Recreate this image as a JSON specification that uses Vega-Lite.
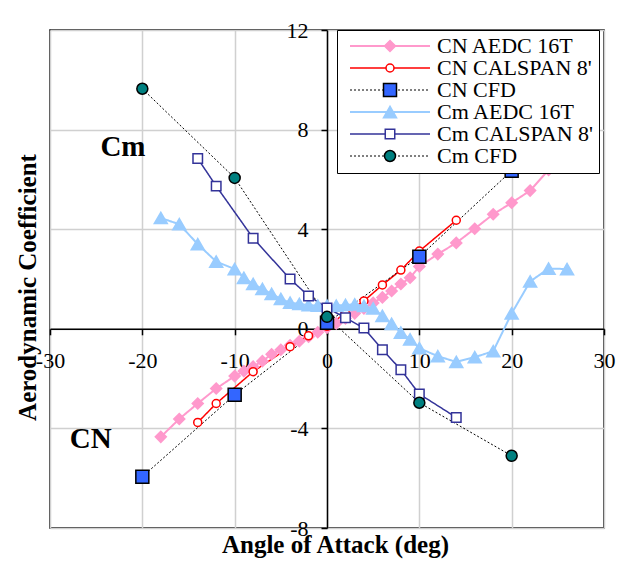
{
  "$schema": "https://vega.github.io/schema/vega-lite/v6.json",
  "width": 554,
  "height": 498,
  "autosize": {"type": "none"},
  "padding": {"left": 50, "top": 30, "right": 19, "bottom": 37},
  "background": "#ffffff",
  "config": {
    "view": {"stroke": "#000000", "strokeWidth": 1.5},
    "font": "Liberation Serif"
  },
  "datasets": {
    "series": [
      {"series": "CN AEDC 16T", "alpha": -18, "coef": -4.34},
      {"series": "CN AEDC 16T", "alpha": -16, "coef": -3.62},
      {"series": "CN AEDC 16T", "alpha": -14, "coef": -3.0},
      {"series": "CN AEDC 16T", "alpha": -12, "coef": -2.4},
      {"series": "CN AEDC 16T", "alpha": -10, "coef": -1.9},
      {"series": "CN AEDC 16T", "alpha": -9, "coef": -1.7},
      {"series": "CN AEDC 16T", "alpha": -8, "coef": -1.52},
      {"series": "CN AEDC 16T", "alpha": -7, "coef": -1.3},
      {"series": "CN AEDC 16T", "alpha": -6, "coef": -1.02},
      {"series": "CN AEDC 16T", "alpha": -5, "coef": -0.84},
      {"series": "CN AEDC 16T", "alpha": -4, "coef": -0.66},
      {"series": "CN AEDC 16T", "alpha": -3, "coef": -0.5},
      {"series": "CN AEDC 16T", "alpha": -2, "coef": -0.32},
      {"series": "CN AEDC 16T", "alpha": -1, "coef": -0.14},
      {"series": "CN AEDC 16T", "alpha": 0, "coef": 0.04},
      {"series": "CN AEDC 16T", "alpha": 1, "coef": 0.22},
      {"series": "CN AEDC 16T", "alpha": 2, "coef": 0.42},
      {"series": "CN AEDC 16T", "alpha": 3, "coef": 0.62},
      {"series": "CN AEDC 16T", "alpha": 4, "coef": 0.82},
      {"series": "CN AEDC 16T", "alpha": 5, "coef": 1.04},
      {"series": "CN AEDC 16T", "alpha": 6, "coef": 1.26},
      {"series": "CN AEDC 16T", "alpha": 7, "coef": 1.52},
      {"series": "CN AEDC 16T", "alpha": 8, "coef": 1.8},
      {"series": "CN AEDC 16T", "alpha": 9, "coef": 2.05},
      {"series": "CN AEDC 16T", "alpha": 10, "coef": 2.5},
      {"series": "CN AEDC 16T", "alpha": 12, "coef": 3.0},
      {"series": "CN AEDC 16T", "alpha": 14, "coef": 3.45},
      {"series": "CN AEDC 16T", "alpha": 16, "coef": 4.02},
      {"series": "CN AEDC 16T", "alpha": 18, "coef": 4.6},
      {"series": "CN AEDC 16T", "alpha": 20, "coef": 5.06},
      {"series": "CN AEDC 16T", "alpha": 22, "coef": 5.55},
      {"series": "CN AEDC 16T", "alpha": 24, "coef": 6.38},
      {"series": "CN AEDC 16T", "alpha": 26, "coef": 7.1},

      {"series": "CN CALSPAN 8'", "alpha": -14, "coef": -3.76},
      {"series": "CN CALSPAN 8'", "alpha": -12, "coef": -3.0},
      {"series": "CN CALSPAN 8'", "alpha": -8, "coef": -1.72},
      {"series": "CN CALSPAN 8'", "alpha": -4, "coef": -0.72},
      {"series": "CN CALSPAN 8'", "alpha": -2, "coef": -0.28},
      {"series": "CN CALSPAN 8'", "alpha": 0, "coef": 0.1},
      {"series": "CN CALSPAN 8'", "alpha": 2, "coef": 0.62},
      {"series": "CN CALSPAN 8'", "alpha": 4, "coef": 1.12},
      {"series": "CN CALSPAN 8'", "alpha": 6, "coef": 1.76},
      {"series": "CN CALSPAN 8'", "alpha": 8, "coef": 2.36},
      {"series": "CN CALSPAN 8'", "alpha": 10, "coef": 3.12},
      {"series": "CN CALSPAN 8'", "alpha": 14, "coef": 4.36},

      {"series": "CN CFD", "alpha": -20, "coef": -5.94},
      {"series": "CN CFD", "alpha": -10, "coef": -2.65},
      {"series": "CN CFD", "alpha": 0, "coef": 0.24},
      {"series": "CN CFD", "alpha": 10, "coef": 2.89},
      {"series": "CN CFD", "alpha": 20, "coef": 6.35},

      {"series": "Cm AEDC 16T", "alpha": -18, "coef": 4.45},
      {"series": "Cm AEDC 16T", "alpha": -16, "coef": 4.2},
      {"series": "Cm AEDC 16T", "alpha": -14, "coef": 3.4},
      {"series": "Cm AEDC 16T", "alpha": -12, "coef": 2.7},
      {"series": "Cm AEDC 16T", "alpha": -10, "coef": 2.4},
      {"series": "Cm AEDC 16T", "alpha": -9, "coef": 2.05},
      {"series": "Cm AEDC 16T", "alpha": -8, "coef": 1.8},
      {"series": "Cm AEDC 16T", "alpha": -7, "coef": 1.6},
      {"series": "Cm AEDC 16T", "alpha": -6, "coef": 1.4},
      {"series": "Cm AEDC 16T", "alpha": -5, "coef": 1.2},
      {"series": "Cm AEDC 16T", "alpha": -4, "coef": 1.05},
      {"series": "Cm AEDC 16T", "alpha": -3, "coef": 1.0},
      {"series": "Cm AEDC 16T", "alpha": -2, "coef": 0.95},
      {"series": "Cm AEDC 16T", "alpha": -1, "coef": 0.93},
      {"series": "Cm AEDC 16T", "alpha": 0, "coef": 0.93},
      {"series": "Cm AEDC 16T", "alpha": 1, "coef": 0.93},
      {"series": "Cm AEDC 16T", "alpha": 2, "coef": 0.96},
      {"series": "Cm AEDC 16T", "alpha": 3, "coef": 0.98},
      {"series": "Cm AEDC 16T", "alpha": 4, "coef": 0.92},
      {"series": "Cm AEDC 16T", "alpha": 5, "coef": 0.82},
      {"series": "Cm AEDC 16T", "alpha": 6, "coef": 0.52},
      {"series": "Cm AEDC 16T", "alpha": 7, "coef": 0.2},
      {"series": "Cm AEDC 16T", "alpha": 8, "coef": -0.15},
      {"series": "Cm AEDC 16T", "alpha": 9, "coef": -0.42},
      {"series": "Cm AEDC 16T", "alpha": 10, "coef": -0.78},
      {"series": "Cm AEDC 16T", "alpha": 12, "coef": -1.1},
      {"series": "Cm AEDC 16T", "alpha": 14, "coef": -1.33},
      {"series": "Cm AEDC 16T", "alpha": 16, "coef": -1.14},
      {"series": "Cm AEDC 16T", "alpha": 18, "coef": -0.9},
      {"series": "Cm AEDC 16T", "alpha": 20, "coef": 0.62},
      {"series": "Cm AEDC 16T", "alpha": 22, "coef": 1.9},
      {"series": "Cm AEDC 16T", "alpha": 24, "coef": 2.42},
      {"series": "Cm AEDC 16T", "alpha": 26, "coef": 2.4},

      {"series": "Cm CALSPAN 8'", "alpha": -14, "coef": 6.84},
      {"series": "Cm CALSPAN 8'", "alpha": -12, "coef": 5.73},
      {"series": "Cm CALSPAN 8'", "alpha": -8, "coef": 3.64},
      {"series": "Cm CALSPAN 8'", "alpha": -4, "coef": 2.0},
      {"series": "Cm CALSPAN 8'", "alpha": -2, "coef": 1.32},
      {"series": "Cm CALSPAN 8'", "alpha": 0, "coef": 0.84},
      {"series": "Cm CALSPAN 8'", "alpha": 2, "coef": 0.44},
      {"series": "Cm CALSPAN 8'", "alpha": 4, "coef": 0.03},
      {"series": "Cm CALSPAN 8'", "alpha": 6, "coef": -0.84},
      {"series": "Cm CALSPAN 8'", "alpha": 8, "coef": -1.64},
      {"series": "Cm CALSPAN 8'", "alpha": 10, "coef": -2.62},
      {"series": "Cm CALSPAN 8'", "alpha": 14, "coef": -3.56},

      {"series": "Cm CFD", "alpha": -20, "coef": 9.64},
      {"series": "Cm CFD", "alpha": -10, "coef": 6.06},
      {"series": "Cm CFD", "alpha": 0, "coef": 0.48},
      {"series": "Cm CFD", "alpha": 10, "coef": -2.97},
      {"series": "Cm CFD", "alpha": 20, "coef": -5.1}
    ],
    "notes": [
      {"label": "Cm", "alpha": -22.1, "coef": 6.95},
      {"label": "CN", "alpha": -25.6, "coef": -4.78}
    ]
  },
  "encoding": {
    "x": {
      "field": "alpha", "type": "quantitative",
      "scale": {"domain": [-30, 30], "nice": false, "zero": false},
      "axis": {
        "orient": "bottom", "offset": -199.2,
        "values": [-30, -20, -10, 0, 10, 20, 30],
        "labelExpr": "datum.value + ''",
        "labelFont": "Liberation Serif", "labelFontSize": 22, "labelColor": "#000000",
        "labelPadding": 16, "labelFlush": false, "labelOverlap": false, "labelBound": false,
        "tickSize": 6, "tickColor": "#000000", "tickWidth": 1.5,
        "domainColor": "#000000", "domainWidth": 1.5,
        "grid": true, "gridColor": "#D0D0D0", "gridWidth": 1.5,
        "title": "Angle of Attack (deg)",
        "titleFont": "Liberation Serif", "titleFontSize": 25, "titleFontWeight": "bold", "titleColor": "#000000",
        "titleX": 285, "titleY": 224, "titleBaseline": "alphabetic", "titleAlign": "center"
      }
    },
    "y": {
      "field": "coef", "type": "quantitative",
      "scale": {"domain": [-8, 12], "nice": false, "zero": false},
      "axis": {
        "orient": "left", "offset": -277,
        "values": [-8, -4, 0, 4, 8, 12],
        "labelExpr": "datum.value + ''",
        "labelFont": "Liberation Serif", "labelFontSize": 22, "labelColor": "#000000",
        "labelPadding": 13, "labelFlush": false, "labelOverlap": false, "labelBound": false,
        "tickSize": 6, "tickColor": "#000000", "tickWidth": 1.5,
        "domainColor": "#000000", "domainWidth": 1.5,
        "grid": true, "gridColor": "#D0D0D0", "gridWidth": 1.5,
        "title": "Aerodynamic Coefficient",
        "titleFont": "Liberation Serif", "titleFontSize": 25, "titleFontWeight": "bold", "titleColor": "#000000",
        "titleAngle": 270, "titleX": -300, "titleY": 257, "titleBaseline": "middle", "titleAlign": "center"
      }
    }
  },
  "layer": [
    {
      "data": {"name": "series"},
      "mark": {"type": "line", "interpolate": "linear"},
      "encoding": {
        "detail": {"field": "series", "type": "nominal"},
        "color": {
          "field": "series", "type": "nominal",
          "scale": {
            "domain": ["Cm CFD", "Cm CALSPAN 8'", "Cm AEDC 16T", "CN CFD", "CN CALSPAN 8'", "CN AEDC 16T"],
            "range": ["#000000", "#333399", "#99CCFF", "#000000", "#FF0000", "#FF99CC"]
          },
          "legend": {
            "values": ["CN AEDC 16T", "CN CALSPAN 8'", "CN CFD", "Cm AEDC 16T", "Cm CALSPAN 8'", "Cm CFD"],
            "title": null,
            "orient": "none",
            "legendX": 287,
            "legendY": 0,
            "zindex": 0,
            "padding": 6,
            "fillColor": "#FFFFFF",
            "strokeColor": "#000000",
            "labelFont": "Liberation Serif",
            "labelFontSize": 22,
            "labelColor": "#000000",
            "labelLimit": 400,
            "symbolType": "stroke",
            "symbolSize": 6400,
            "symbolOffset": 6,
            "labelOffset": 6,
            "clipHeight": 20,
            "rowPadding": 0
          }
        },
        "strokeWidth": {
          "field": "series", "type": "nominal",
          "scale": {
            "type": "ordinal",
            "domain": ["Cm CFD", "Cm CALSPAN 8'", "Cm AEDC 16T", "CN CFD", "CN CALSPAN 8'", "CN AEDC 16T"],
            "range": [1, 1.5, 2, 1, 1.5, 2]
          },
          "legend": {
            "values": ["CN AEDC 16T", "CN CALSPAN 8'", "CN CFD", "Cm AEDC 16T", "Cm CALSPAN 8'", "Cm CFD"],
            "title": null, "orient": "none", "legendX": 287, "legendY": 0
          }
        },
        "strokeDash": {
          "field": "series", "type": "nominal",
          "scale": {
            "domain": ["Cm CFD", "Cm CALSPAN 8'", "Cm AEDC 16T", "CN CFD", "CN CALSPAN 8'", "CN AEDC 16T"],
            "range": [[2, 2], [1, 0], [1, 0], [2, 2], [1, 0], [1, 0]]
          },
          "legend": {
            "values": ["CN AEDC 16T", "CN CALSPAN 8'", "CN CFD", "Cm AEDC 16T", "Cm CALSPAN 8'", "Cm CFD"],
            "title": null, "orient": "none", "legendX": 287, "legendY": 0
          }
        }
      }
    },
    {
      "data": {"name": "series"},
      "mark": {"type": "point", "opacity": 1, "strokeWidth": 1.5},
      "encoding": {
        "shape": {
          "field": "series", "type": "nominal",
          "scale": {
            "domain": ["CN AEDC 16T", "CN CALSPAN 8'", "CN CFD", "Cm AEDC 16T", "Cm CALSPAN 8'", "Cm CFD"],
            "range": ["diamond", "circle", "square", "triangle-up", "square", "circle"]
          },
          "legend": {
            "title": null,
            "orient": "none",
            "legendX": 287,
            "legendY": 0,
            "zindex": 1,
            "padding": 6,
            "labelFont": "Liberation Serif",
            "labelFontSize": 22,
            "labelColor": "#000000",
            "labelOpacity": 0,
            "labelLimit": 400,
            "symbolStrokeWidth": 1.5,
            "symbolOpacity": 1,
            "symbolOffset": 36,
            "labelOffset": 36,
            "clipHeight": 20,
            "rowPadding": 0
          }
        },
        "fill": {
          "field": "series", "type": "nominal",
          "scale": {
            "domain": ["CN AEDC 16T", "CN CALSPAN 8'", "CN CFD", "Cm AEDC 16T", "Cm CALSPAN 8'", "Cm CFD"],
            "range": ["#FF99CC", "#FFFFFF", "#3366FF", "#99CCFF", "#FFFFFF", "#008080"]
          },
          "legend": {"title": null, "orient": "none", "legendX": 287, "legendY": 0}
        },
        "stroke": {
          "field": "series", "type": "nominal",
          "scale": {
            "domain": ["CN AEDC 16T", "CN CALSPAN 8'", "CN CFD", "Cm AEDC 16T", "Cm CALSPAN 8'", "Cm CFD"],
            "range": ["#FF99CC", "#FF0000", "#000000", "#99CCFF", "#333399", "#000000"]
          },
          "legend": {"title": null, "orient": "none", "legendX": 287, "legendY": 0}
        },
        "size": {
          "field": "series", "type": "nominal",
          "scale": {
            "type": "ordinal",
            "domain": ["CN AEDC 16T", "CN CALSPAN 8'", "CN CFD", "Cm AEDC 16T", "Cm CALSPAN 8'", "Cm CFD"],
            "range": [121, 64, 169, 169, 90, 121]
          },
          "legend": {"title": null, "orient": "none", "legendX": 287, "legendY": 0}
        }
      }
    },
    {
      "data": {"name": "notes"},
      "mark": {"type": "text", "font": "Liberation Serif", "fontSize": 29, "fontWeight": "bold", "align": "center", "baseline": "alphabetic", "color": "#000000"},
      "encoding": {
        "text": {"field": "label", "type": "nominal"}
      }
    }
  ]
}
